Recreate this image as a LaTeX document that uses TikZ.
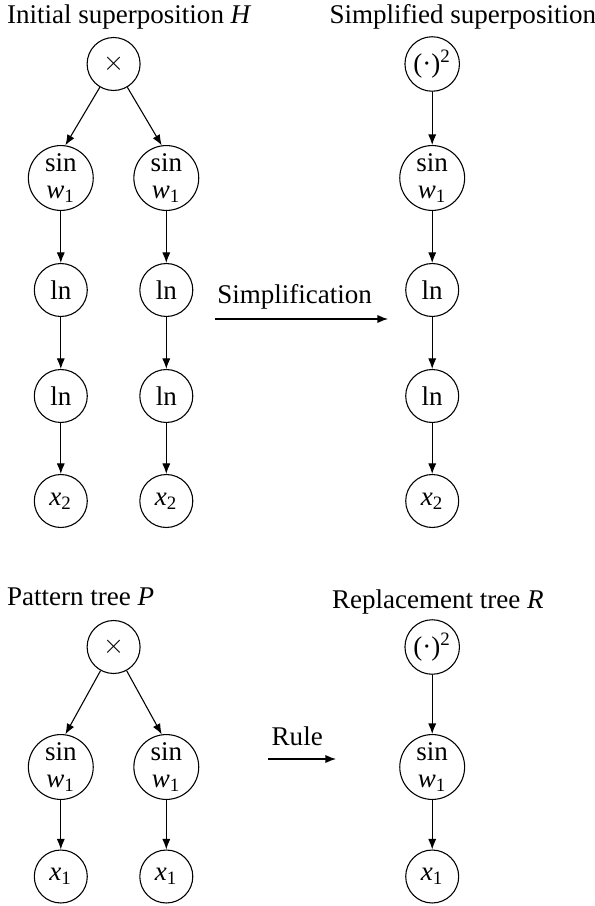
\documentclass[tikz,border=0pt]{standalone}
\usepackage{fontspec}
\setmainfont{Liberation Serif}
\usetikzlibrary{arrows.meta}

\begin{document}
\begin{tikzpicture}[
		x=0.37pt, y=-0.37pt,
		op/.style={circle, draw, minimum size=19.6pt, inner sep=1pt},
		fn/.style={circle, draw, minimum size=24pt, inner sep=0.5pt, align=center},
		title/.style={anchor=base west, inner sep=0pt},
		arrow/.style={-{Latex[length=3.9pt,width=3pt]}}
	]
		\useasboundingbox (0,0) rectangle (595,906);

		% Initial superposition
		\node[title] (tH) at (6.5,24) {Initial superposition \textit{H}};
		\node[op] (hm) at (113.6,64) {$\times$};
		\node[fn] (hs1) at (60.8,178) {sin\\[-2pt]\textit{w}\textsubscript{1}};
		\node[fn] (hs2) at (166.3,178) {sin\\[-2pt]\textit{w}\textsubscript{1}};
		\node[op] (hl1) at (60.8,290) {ln};
		\node[op] (hl2) at (166.3,290) {ln};
		\node[op] (hk1) at (60.8,396) {ln};
		\node[op] (hk2) at (166.3,396) {ln};
		\node[op] (hx1) at (60.8,501) {\textit{x}\textsubscript{2}};
		\node[op] (hx2) at (166.3,501) {\textit{x}\textsubscript{2}};

		% Simplified superposition
		\node[title] (tS) at (329,24) {Simplified superposition};
		\node[op] (sq) at (432.2,64) {(·)\textsuperscript{2}};
		\node[fn] (ss) at (432.2,178) {sin\\[-2pt]\textit{w}\textsubscript{1}};
		\node[op] (sl) at (432.2,290) {ln};
		\node[op] (sk) at (432.2,396) {ln};
		\node[op] (sx) at (432.2,501) {\textit{x}\textsubscript{2}};

		% Pattern tree
		\node[title] (tP) at (6.5,605) {Pattern tree \textit{P}};
		\node[op] (pm) at (113.6,647) {$\times$};
		\node[fn] (ps1) at (60.8,767) {sin\\[-2pt]\textit{w}\textsubscript{1}};
		\node[fn] (ps2) at (166.3,767) {sin\\[-2pt]\textit{w}\textsubscript{1}};
		\node[op] (px1) at (60.8,876.5) {\textit{x}\textsubscript{1}};
		\node[op] (px2) at (166.3,876.5) {\textit{x}\textsubscript{1}};

		% Replacement tree
		\node[title] (tR) at (331.5,608) {Replacement tree \textit{R}};
		\node[op] (rq) at (432.2,647) {(·)\textsuperscript{2}};
		\node[fn] (rs) at (432.2,767) {sin\\[-2pt]\textit{w}\textsubscript{1}};
		\node[op] (rx) at (432.2,876.5) {\textit{x}\textsubscript{1}};

		% Tree arrows
		\draw[arrow] (hm) -- (hs1.82);
		\draw[arrow] (hm) -- (hs2.98);
		\draw[arrow] (hs1) -- (hl1);
		\draw[arrow] (hs2) -- (hl2);
		\draw[arrow] (hl1) -- (hk1);
		\draw[arrow] (hl2) -- (hk2);
		\draw[arrow] (hk1) -- (hx1);
		\draw[arrow] (hk2) -- (hx2);

		\draw[arrow] (sq) -- (ss);
		\draw[arrow] (ss) -- (sl);
		\draw[arrow] (sl) -- (sk);
		\draw[arrow] (sk) -- (sx);

		\draw[arrow] (pm) -- (ps1.82);
		\draw[arrow] (pm) -- (ps2.98);
		\draw[arrow] (ps1) -- (px1);
		\draw[arrow] (ps2) -- (px2);

		\draw[arrow] (rq) -- (rs);
		\draw[arrow] (rs) -- (rx);

		% Transformation arrows
		\coordinate (simpA) at (215,319);
		\coordinate (simpB) at (388,319);
		\draw[arrow] (simpA) -- node[above, pos=0.46] (simpL) {Simplification} (simpB);
		\coordinate (ruleA) at (268,759);
		\coordinate (ruleB) at (336,759);
		\draw[arrow] (ruleA) -- node[above=1.5pt, pos=0.43] (ruleL) {Rule} (ruleB);
	\end{tikzpicture}
\end{document}
